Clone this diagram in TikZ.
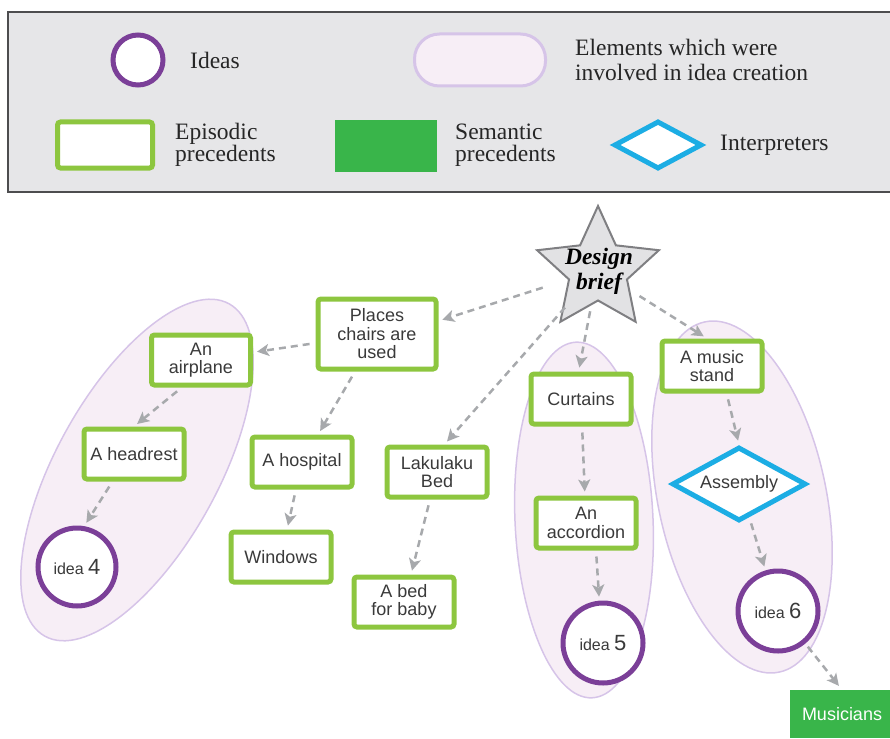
\documentclass[tikz,border=0pt]{standalone}
\usepackage{fontspec}
\setmainfont{Liberation Serif}
\newfontfamily\boxfont{Liberation Sans}
\usetikzlibrary{shapes.geometric,arrows.meta}

\definecolor{epigreen}{HTML}{8DC63F}
\definecolor{semgreen}{HTML}{39B54A}
\definecolor{ideapurple}{HTML}{7B3F98}
\definecolor{groupline}{HTML}{D6C4E8}
\definecolor{groupfill}{HTML}{F7EEF6}
\definecolor{interblue}{HTML}{1CADE4}
\definecolor{panelgray}{HTML}{E6E6E8}
\definecolor{paneledge}{HTML}{4D4D4F}
\definecolor{arrowgray}{HTML}{A7A9AC}
\definecolor{textgray}{HTML}{3A3A3A}
\definecolor{stargray}{HTML}{E2E2E4}
\definecolor{staredge}{HTML}{7F7F82}

\begin{document}
\begin{tikzpicture}[x=1pt,y=-1pt,
  boxtext/.style={font=\boxfont\fontsize{18}{18.5}\selectfont, text=textgray, align=center},
  episodic/.style={boxtext, draw=epigreen, line width=5pt, fill=white,
    rounded corners=3pt, inner sep=0pt, minimum width=100pt, minimum height=50pt},
  semantic/.style={boxtext, text=white, fill=semgreen, inner sep=0pt,
    minimum width=100pt, minimum height=48pt},
  idea/.style={boxtext, circle, draw=ideapurple, line width=5pt, fill=white,
    inner sep=0pt, minimum size=80pt},
  interp/.style={boxtext, diamond, draw=interblue, line width=5pt, fill=white,
    inner sep=0pt, aspect=1.9},
  group/.style={ellipse, draw=groupline, line width=1.5pt, fill=groupfill},
  legtext/.style={font=\fontsize{23.5}{22}\selectfont, text=black!85, anchor=west, align=left, inner sep=0pt},
  flow/.style={draw=arrowgray, line width=2.5pt, dash pattern=on 7pt off 5pt,
    -{Stealth[length=12pt,width=12pt,inset=3pt]}, shorten <=6pt, shorten >=4pt}
]
\useasboundingbox (0,0) rectangle (890,738);

% ---- legend panel ----
\path[draw=paneledge, line width=1.5pt, fill=panelgray] (8,12) rectangle (905,192);

\node[idea, minimum size=50pt] (legidea) at (138,60) {};
\node[legtext] (legideatext) at (190,60) {Ideas};

\node[draw=groupline, line width=3pt, fill=groupfill, rounded corners=25pt,
      minimum width=131pt, minimum height=52pt] (leggroup) at (480,60) {};
\node[legtext, font=\fontsize{23.5}{25}\selectfont] (leggrouptext) at (575,60)
  {Elements which were\\involved in idea creation};

\node[episodic, minimum width=95pt, minimum height=46pt] (legepi) at (105,145) {};
\node[legtext] (legepitext) at (175,145) {Episodic\\precedents};

\node[semantic, minimum width=102pt, minimum height=52pt] (legsem) at (386,146) {};
\node[legtext] (legsemtext) at (455,145) {Semantic\\precedents};

\node[interp, minimum width=88pt, minimum height=48pt] (leginter) at (658,145) {};
\node[legtext] (leginterrtext) at (720,145) {Interpreters};

% ---- groups of elements behind each idea ----
\node[group, minimum width=380pt, minimum height=162pt, rotate=61] (grp4) at (137,470) {};
\node[group, minimum width=138pt, minimum height=356pt, rotate=2.6] (grp5) at (584,520) {};
\node[group, minimum width=168pt, minimum height=358pt, rotate=12] (grp6) at (742,497) {};

% ---- design brief ----
\node[star, star points=5, star point ratio=2.1, minimum size=128pt,
      draw=staredge, fill=stargray, line width=2pt, inner sep=0pt] (brief) at (598,270) {};
\node[font=\bfseries\itshape\fontsize{23.5}{25}\selectfont, align=center, inner sep=0pt]
  (brieftext) at (599,271) {Design\\brief};

% ---- precedents, interpreters and ideas ----
\node[episodic, minimum width=118pt, minimum height=70pt] (places) at (377,334) {Places\\chairs are\\used};
\node[episodic, minimum width=99pt] (airplane) at (201,360) {An\\airplane};
\node[episodic] (headrest) at (134,454) {A headrest};
\node[idea, minimum size=78pt] (idea4) at (77,567) {\fontsize{16}{18}\selectfont idea \fontsize{22}{22}\selectfont 4};
\node[episodic] (hospital) at (302,462) {A hospital};
\node[episodic] (windows) at (281,557) {Windows};
\node[episodic] (lakulaku) at (437,472) {Lakulaku\\Bed};
\node[episodic] (bed) at (404,602) {A bed\\for baby};
\node[episodic] (curtains) at (581,399) {Curtains};
\node[episodic] (accordion) at (586,523) {An\\accordion};
\node[idea] (idea5) at (603,643) {\fontsize{16}{18}\selectfont idea \fontsize{22}{22}\selectfont 5};
\node[episodic] (music) at (712,366) {A music\\stand};
\node[interp, minimum width=134pt, minimum height=74pt] (assembly) at (739,484) {Assembly};
\node[idea] (idea6) at (778,611) {\fontsize{16}{18}\selectfont idea \fontsize{22}{22}\selectfont 6};
\node[semantic, minimum width=104pt] (musicians) at (842,714) {Musicians};

% ---- connectors ----
\draw[flow, shorten <=58pt] (brief.center) -- (places.12);
\draw[flow, shorten <=50pt] (brief.center) -- (lakulaku.75);
\draw[flow, shorten <=42pt] (brief.center) -- (curtains.95);
\draw[flow, shorten <=49pt] (brief.center) -- (music.100);

\draw[flow] (places) -- (airplane);
\draw[flow] (places) -- (hospital);
\draw[flow] (airplane.235) -- (headrest.north);
\draw[flow] (headrest.232) -- (idea4.80);
\draw[flow] (hospital) -- (windows);
\draw[flow] (lakulaku) -- (bed);
\draw[flow] (curtains) -- (accordion);
\draw[flow] (accordion.290) -- (idea5.95);
\draw[flow] (music.298) -- (assembly.north);
\draw[flow] (assembly) -- (idea6);
\draw[flow, shorten <=4pt, shorten >=5pt] (idea6.-50) -- (musicians.north);
\end{tikzpicture}
\end{document}
